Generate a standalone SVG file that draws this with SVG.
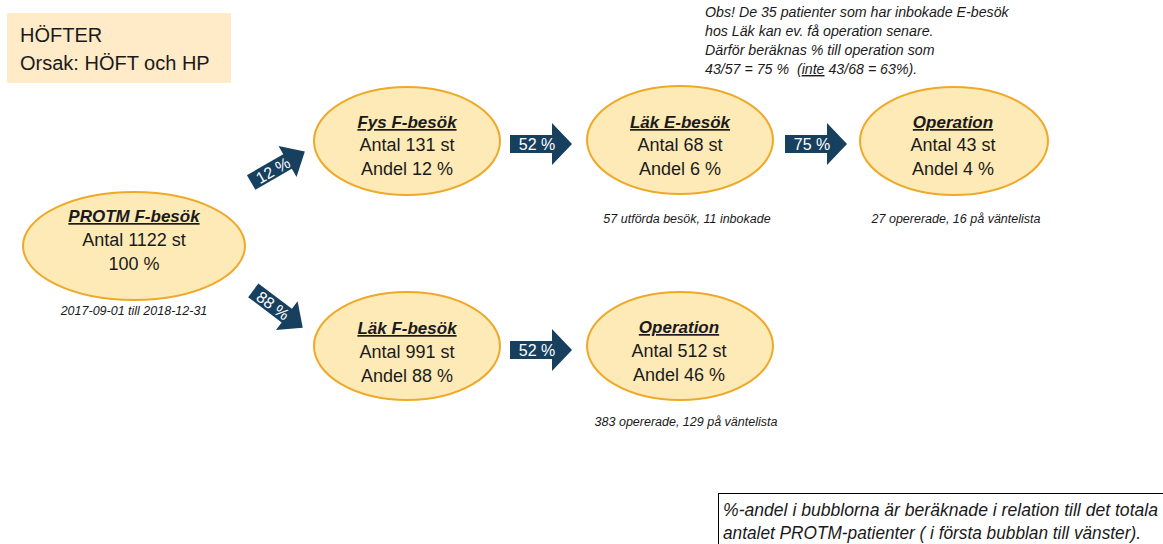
<svg xmlns="http://www.w3.org/2000/svg" width="1163" height="544" viewBox="0 0 1163 544">
<style>
.bub{fill:#FDEAB6;stroke:#EFA928;stroke-width:2}
.t{font-family:"Liberation Sans",Arial,sans-serif;font-size:18px;fill:#1a1a1a;text-anchor:middle}
.h{font-size:17px;font-weight:bold;font-style:italic;text-decoration:underline}
.n{font-family:"Liberation Sans",Arial,sans-serif;font-size:12.5px;font-style:italic;fill:#1a1a1a;text-anchor:middle}
.arr{fill:#17405F}
.al{font-family:"Liberation Sans",Arial,sans-serif;font-size:16px;fill:#ffffff;text-anchor:middle}
.obs{font-family:"Liberation Sans",Arial,sans-serif;font-size:14.2px;font-style:italic;fill:#1a1a1a}
.foot{font-family:"Liberation Sans",Arial,sans-serif;font-size:17.5px;font-style:italic;fill:#1a1a1a}
</style>
<defs>
<path id="harr" d="M-28,-9 H14 V-21 L34,0 L14,21 V9 H-28 Z"/>
<path id="darr" d="M-31,-8.5 H11 V-18 L31,0 L11,18 V8.5 H-31 Z"/>
</defs>
<rect width="1163" height="544" fill="#ffffff"/>

<g id="header">
<rect x="7" y="13" width="224" height="70" fill="#FFEBC8"/>
<text x="20" y="42" font-family="'Liberation Sans',Arial,sans-serif" font-size="20" fill="#1a1a1a">HÖFTER</text>
<text x="20" y="70" font-family="'Liberation Sans',Arial,sans-serif" font-size="20" fill="#1a1a1a">Orsak: HÖFT och HP</text>
</g>

<g id="obs-note">
<text class="obs" x="705" y="17">Obs! De 35 patienter som har inbokade E-besök</text>
<text class="obs" x="705" y="36">hos Läk kan ev. få operation senare.</text>
<text class="obs" x="705" y="55">Därför beräknas % till operation som</text>
<text class="obs" x="705" y="74" xml:space="preserve">43/57 = 75 %  (<tspan text-decoration="underline">inte</tspan> 43/68 = 63%).</text>
</g>

<g id="connectors">
<g transform="translate(278,167) rotate(-30)">
<use href="#darr" class="arr"/>
<text class="al" x="-6" y="6" font-size="16">12 %</text>
</g>
<g transform="translate(278,309) rotate(37)">
<use href="#darr" class="arr"/>
<text class="al" x="-6" y="6" font-size="16">88 %</text>
</g>
<g transform="translate(538,144)">
<use href="#harr" class="arr"/>
<text class="al" x="-1" y="6">52 %</text>
</g>
<g transform="translate(813,144)">
<use href="#harr" class="arr"/>
<text class="al" x="-1" y="6">75 %</text>
</g>
<g transform="translate(538,350)">
<use href="#harr" class="arr"/>
<text class="al" x="-1" y="6">52 %</text>
</g>
</g>

<g id="protm">
<ellipse class="bub" cx="134" cy="246" rx="111" ry="54"/>
<text class="t h" x="134" y="222">PROTM F-besök</text>
<text class="t" x="134" y="246">Antal 1122 st</text>
<text class="t" x="134" y="270">100 %</text>
<text class="n" x="134" y="315">2017-09-01 till 2018-12-31</text>
</g>

<g id="fys-f">
<ellipse class="bub" cx="407" cy="141" rx="93" ry="54"/>
<text class="t h" x="407" y="128">Fys F-besök</text>
<text class="t" x="407" y="151">Antal 131 st</text>
<text class="t" x="407" y="175">Andel 12 %</text>
</g>

<g id="lak-e">
<ellipse class="bub" cx="680" cy="140" rx="93" ry="54"/>
<text class="t h" x="680" y="128">Läk E-besök</text>
<text class="t" x="680" y="151">Antal 68 st</text>
<text class="t" x="680" y="175">Andel 6 %</text>
<text class="n" x="687" y="223">57 utförda besök, 11 inbokade</text>
</g>

<g id="operation-top">
<ellipse class="bub" cx="954" cy="141" rx="94" ry="54"/>
<text class="t h" x="953" y="128">Operation</text>
<text class="t" x="953" y="151">Antal 43 st</text>
<text class="t" x="953" y="175">Andel 4 %</text>
<text class="n" x="956" y="223">27 opererade, 16 på väntelista</text>
</g>

<g id="lak-f">
<ellipse class="bub" cx="407" cy="346" rx="93" ry="54"/>
<text class="t h" x="407" y="334">Läk F-besök</text>
<text class="t" x="407" y="358">Antal 991 st</text>
<text class="t" x="407" y="382">Andel 88 %</text>
</g>

<g id="operation-bottom">
<ellipse class="bub" cx="680" cy="346" rx="93" ry="54"/>
<text class="t h" x="679" y="333">Operation</text>
<text class="t" x="679" y="357">Antal 512 st</text>
<text class="t" x="679" y="381">Andel 46 %</text>
<text class="n" x="686" y="426">383 opererade, 129 på väntelista</text>
</g>

<g id="footnote">
<rect x="718.5" y="493.5" width="460" height="60" fill="#ffffff" stroke="#000000" stroke-width="1"/>
<text class="foot" x="723" y="516" textLength="435" lengthAdjust="spacingAndGlyphs">%-andel i bubblorna är beräknade i relation till det totala</text>
<text class="foot" x="723" y="539" textLength="418" lengthAdjust="spacingAndGlyphs">antalet PROTM-patienter ( i första bubblan till vänster).</text>
</g>
</svg>
